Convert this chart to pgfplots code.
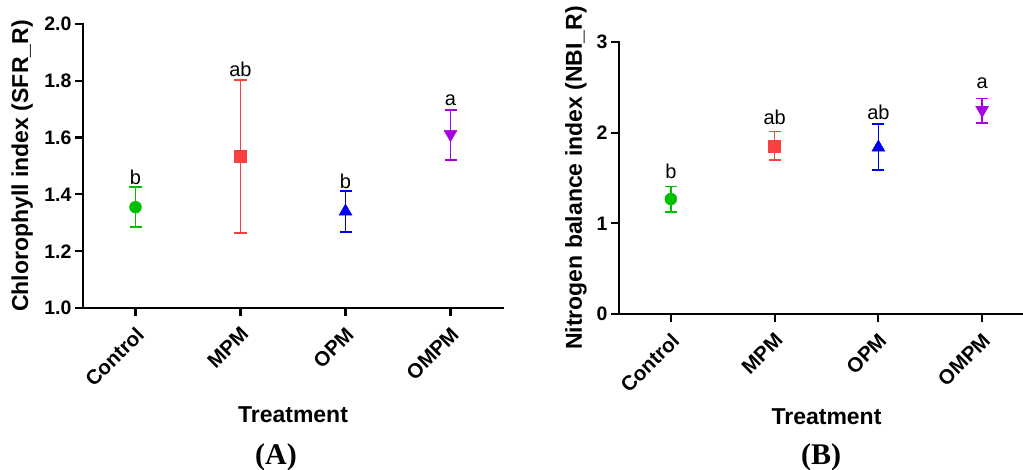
\documentclass[border=0pt]{standalone}
\usepackage{fontspec}
\setmainfont{Liberation Sans}
\newfontfamily\timesfont{Liberation Serif}
\usepackage{pgfplots}
\pgfplotsset{compat=1.18}
\definecolor{cgreen}{RGB}{0,190,0}
\definecolor{cred}{RGB}{250,64,64}
\definecolor{cblue}{RGB}{0,0,240}
\definecolor{cpurple}{RGB}{170,0,230}
\tikzset{lett/.style={font=\fontsize{20}{22}\selectfont}}
\pgfplotsset{
 myaxis/.style={
  scale only axis, axis lines*=left,
  axis line style={line width=2.4pt, line cap=rect},
  tick style={line width=2.2pt, black}, major tick length=8pt, tick align=outside,
  xmin=-0.5, xmax=3.5, xtick={0,1,2,3}, xticklabels={Control,MPM,OPM,OMPM},
  xticklabel style={rotate=45, anchor=north east, xshift=-4pt, yshift=-3pt, font=\fontsize{20.5}{23}\selectfont\bfseries},
  yticklabel style={font=\fontsize{19.5}{22}\selectfont\bfseries},
  /pgf/number format/assume math mode=true,
  label style={font=\fontsize{23}{26}\selectfont\bfseries},
  xlabel={Treatment},
  clip=false,
 },
 eb/.style={only marks, error bars/.cd, y dir=both, y explicit,
  error bar style={line width=1.7pt},
  error mark options={rotate=90, mark size=6pt, line width=1.7pt}},
}
\begin{document}
\begin{tikzpicture}[x=1pt,y=1pt]
\useasboundingbox (0,0) rectangle (1023,470);
\begin{axis}[myaxis, at={(83pt,162pt)}, anchor=south west,
  width=420pt, height=284pt, ymin=1, ymax=2, ytick={1,1.2,1.4,1.6,1.8,2},
  yticklabel style={/pgf/number format/.cd, fixed, fixed zerofill, precision=1},
  ylabel={Chlorophyll index (SFR\_R)},
  ylabel style={at={(axis description cs:-0.145,0.5)}, anchor=center},
  xlabel style={at={(axis description cs:0.5,-0.377)}, anchor=center}]
\addplot[mark=*, mark size=6pt, color=cgreen, eb]
 coordinates {(0,1.355) += (0,0.070) -= (0,0.070)};
\addplot[mark=square*, mark size=6pt, color=cred, eb]
 coordinates {(1,1.533) += (0,0.270) -= (0,0.270)};
\addplot[mark=triangle*, mark size=7.5pt, color=cblue, eb]
 coordinates {(2,1.340) += (0,0.073) -= (0,0.072)};
\addplot[mark=triangle*, mark size=7.5pt, mark options={rotate=180}, color=cpurple, eb]
 coordinates {(3,1.612) += (0,0.085) -= (0,0.092)};
\node[lett] at (axis cs:0,1.46) {b};
\node[lett] at (axis cs:1,1.84) {ab};
\node[lett] at (axis cs:2,1.447) {b};
\node[lett] at (axis cs:3,1.73) {a};
\end{axis}
\begin{axis}[myaxis, at={(619pt,156pt)}, anchor=south west,
  width=415pt, height=272pt, ymin=0, ymax=3, ytick={0,1,2,3},
  ylabel={Nitrogen balance index (NBI\_R)},
  ylabel style={at={(axis description cs:-0.1036,0.5)}, anchor=center},
  xlabel style={at={(axis description cs:0.5,-0.379)}, anchor=center}]
\addplot[mark=*, mark size=6pt, color=cgreen, eb]
 coordinates {(0,1.268) += (0,0.139) -= (0,0.140)};
\addplot[mark=square*, mark size=6pt, color=cred, eb]
 coordinates {(1,1.856) += (0,0.157) -= (0,0.156)};
\addplot[mark=triangle*, mark size=7.5pt, color=cblue, eb]
 coordinates {(2,1.837) += (0,0.258) -= (0,0.247)};
\addplot[mark=triangle*, mark size=7.5pt, mark options={rotate=180}, color=cpurple, eb]
 coordinates {(3,2.250) += (0,0.127) -= (0,0.140)};
\node[lett] at (axis cs:0,1.57) {b};
\node[lett] at (axis cs:1,2.17) {ab};
\node[lett] at (axis cs:2,2.22) {ab};
\node[lett] at (axis cs:3,2.54) {a};
\end{axis}
\node[font=\timesfont\bfseries\fontsize{30}{32}\selectfont] at (276,13) {(A)};
\node[font=\timesfont\bfseries\fontsize{30}{32}\selectfont] at (821,13) {(B)};
\end{tikzpicture}
\end{document}
